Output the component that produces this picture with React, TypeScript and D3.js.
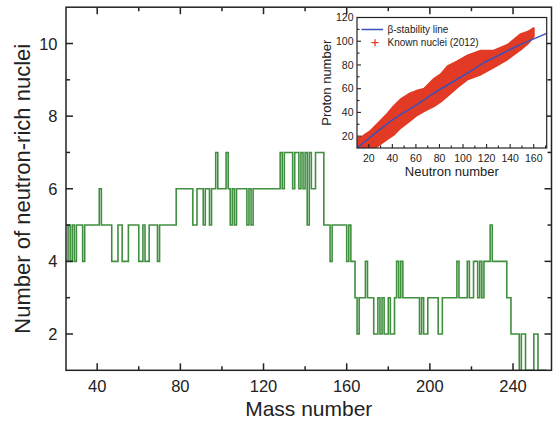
import React from "react";
import * as d3 from "d3";

// main step chart: run-length data (mass number where a run starts, count in that run)
const massStart = [
  25, 26, 27, 28, 29, 30, 33, 34, 41, 42, 47, 50, 52, 55, 60, 62, 63, 65, 69, 70,
  78, 86, 88, 91, 92, 94, 95, 97, 98, 102, 103, 104, 105, 106, 107, 112, 113, 114, 115,
  128, 129, 130, 134, 135, 137, 138, 139, 140, 141, 142, 143, 145, 149, 152, 153, 160,
  161, 162, 164, 165, 166, 169, 170, 173, 175, 176, 177, 178, 180, 181, 183, 184, 185,
  186, 187, 195, 196, 197, 199, 204, 206, 213, 214, 218, 219, 221, 223, 224, 225, 226,
  229, 230, 237, 239, 243, 244, 246, 250, 252,
];
const nucleiCount = [
  4, 5, 4, 5, 4, 5, 4, 5, 6, 5, 4, 5, 4, 5, 4, 5, 4, 5, 4, 5,
  6, 5, 6, 5, 6, 5, 6, 7, 6, 7, 6, 5, 6, 5, 6, 5, 6, 5, 6,
  7, 6, 7, 6, 7, 6, 7, 6, 7, 5, 7, 6, 7, 5, 4, 5, 4,
  5, 4, 3, 2, 3, 4, 3, 2, 3, 2, 3, 2, 3, 2, 3, 4, 3,
  4, 3, 2, 3, 2, 3, 2, 3, 4, 3, 4, 3, 4, 3, 4, 3, 4,
  5, 4, 3, 2, 1, 2, 1, 2, 1,
];
const massEnd = 256;

const xMajorTicks = [40, 80, 120, 160, 200, 240];
const xMinorTicks = [60, 100, 140, 180, 220];
const yMajorTicks = [2, 4, 6, 8, 10];
const yMinorTicks = [3, 5, 7, 9];

// inset: beta-stability line and band of known nuclei
const betaN = [10, 20, 35, 50, 60, 75, 90, 105, 118, 130, 146, 160, 172];
const betaZ = [10, 18, 30, 40, 46, 56, 65, 74, 82, 88, 96, 102, 107];

const bandN = [8, 15, 21, 28, 35, 41, 47, 55, 60, 67, 75, 81, 87, 95, 104, 115, 126, 138, 149, 155, 160];
const bandZmax = [17, 20, 24, 31, 38, 45, 51, 56, 58, 60, 68, 72, 79, 83, 88, 92, 92, 97, 106, 108, 111];
const bandZmin = [5, 5, 7, 12, 17, 21, 27, 33, 37, 41, 45, 49, 54, 61, 68, 72, 78, 85, 93, 98, 104];

const insetXTicks = [20, 40, 60, 80, 100, 120, 140, 160];
const insetXMinor = [30, 50, 70, 90, 110, 130, 150, 170];
const insetYTicks = [20, 40, 60, 80, 100, 120];
const insetYMinor = [30, 50, 70, 90, 110];

const FONT = "'Liberation Sans', Arial, sans-serif";
const INK = "#222";

export default function App() {
  const x = d3.scaleLinear().domain([25, 258.5]).range([66, 551.5]);
  const y = d3.scaleLinear().domain([1, 11]).range([370.3, 7.2]);

  const steps: [number, number][] = massStart.map((a, i) => [a, nucleiCount[i]]);
  steps.push([massEnd, nucleiCount[nucleiCount.length - 1]]);
  const stepLine = d3
    .line<[number, number]>()
    .x((d) => x(d[0]))
    .y((d) => y(d[1]))
    .curve(d3.curveStepAfter);

  const ix = d3.scaleLinear().domain([10, 171]).range([357, 546.7]);
  const iy = d3.scaleLinear().domain([10, 120]).range([148, 17.5]);

  const bandArea = d3
    .area<number>()
    .x((d) => ix(bandN[d]))
    .y0((d) => iy(bandZmin[d]))
    .y1((d) => iy(bandZmax[d]))
    .curve(d3.curveLinear);
  const betaLine = d3
    .line<number>()
    .x((d, i) => ix(betaN[i]))
    .y((d) => iy(d))
    .curve(d3.curveMonotoneX);

  const [x0, x1] = x.range();
  const [yb, yt] = y.range();
  const [ix0, ix1] = ix.range();
  const [iyb, iyt] = iy.range();

  return (
    <svg
      width={553}
      height={423}
      style={{ position: "absolute", left: 0, top: 0, background: "#fff" }}
      fontFamily={FONT}
    >
      <defs>
        <clipPath id="insetClip">
          <rect x={ix0} y={iyt} width={ix1 - ix0} height={iyb - iyt} />
        </clipPath>
      </defs>

      {/* main step line */}
      <path d={stepLine(steps) || ""} fill="none" stroke="#3f8f3f" strokeWidth={1.6} />

      {/* main frame */}
      <rect x={x0} y={yt} width={x1 - x0} height={yb - yt} fill="none" stroke={INK} strokeWidth={1.5} />

      {/* main ticks */}
      {xMajorTicks.map((t) => (
        <g key={"xm" + t}>
          <line x1={x(t)} x2={x(t)} y1={yb} y2={yb - 7} stroke={INK} strokeWidth={1.5} />
          <line x1={x(t)} x2={x(t)} y1={yt} y2={yt + 7} stroke={INK} strokeWidth={1.5} />
          <text x={x(t)} y={392} textAnchor="middle" fontSize={16.5} fill={INK}>
            {t}
          </text>
        </g>
      ))}
      {xMinorTicks.map((t) => (
        <g key={"xn" + t}>
          <line x1={x(t)} x2={x(t)} y1={yb} y2={yb - 4} stroke={INK} strokeWidth={1.5} />
          <line x1={x(t)} x2={x(t)} y1={yt} y2={yt + 4} stroke={INK} strokeWidth={1.5} />
        </g>
      ))}
      {yMajorTicks.map((t) => (
        <g key={"ym" + t}>
          <line x1={x0} x2={x0 + 7} y1={y(t)} y2={y(t)} stroke={INK} strokeWidth={1.5} />
          <line x1={x1} x2={x1 - 7} y1={y(t)} y2={y(t)} stroke={INK} strokeWidth={1.5} />
          <text x={57.5} y={y(t) + 6} textAnchor="end" fontSize={16.5} fill={INK}>
            {t}
          </text>
        </g>
      ))}
      {yMinorTicks.map((t) => (
        <g key={"yn" + t}>
          <line x1={x0} x2={x0 + 4} y1={y(t)} y2={y(t)} stroke={INK} strokeWidth={1.5} />
          <line x1={x1} x2={x1 - 4} y1={y(t)} y2={y(t)} stroke={INK} strokeWidth={1.5} />
        </g>
      ))}

      <text x={(x0 + x1) / 2} y={416} textAnchor="middle" fontSize={21} fill={INK}>
        Mass number
      </text>
      <text
        transform={`translate(30,${(yb + yt) / 2}) rotate(-90)`}
        textAnchor="middle"
        fontSize={22}
        fill={INK}
      >
        Number of neutron-rich nuclei
      </text>

      {/* inset */}
      <rect x={ix0} y={iyt} width={ix1 - ix0} height={iyb - iyt} fill="#fff" />
      <g clipPath="url(#insetClip)">
        <path
          d={bandArea(d3.range(bandN.length)) || ""}
          fill="#e33a25"
          stroke="#e33a25"
          strokeWidth={2}
          strokeLinejoin="round"
        />
        <path d={betaLine(betaZ) || ""} fill="none" stroke="#3a52b8" strokeWidth={1.5} />
      </g>
      <rect x={ix0} y={iyt} width={ix1 - ix0} height={iyb - iyt} fill="none" stroke={INK} strokeWidth={1.2} />

      {insetXTicks.map((t) => (
        <g key={"ix" + t}>
          <line x1={ix(t)} x2={ix(t)} y1={iyb} y2={iyb - 4} stroke={INK} strokeWidth={1.1} />
          <text x={ix(t)} y={162} textAnchor="middle" fontSize={10.5} fill={INK}>
            {t}
          </text>
        </g>
      ))}
      {insetXMinor.map((t) => (
        <line key={"ixn" + t} x1={ix(t)} x2={ix(t)} y1={iyb} y2={iyb - 2.5} stroke={INK} strokeWidth={1.1} />
      ))}
      {insetYTicks.map((t) => (
        <g key={"iy" + t}>
          <line x1={ix0} x2={ix0 + 4} y1={iy(t)} y2={iy(t)} stroke={INK} strokeWidth={1.1} />
          <text x={353.5} y={iy(t) + 3.8} textAnchor="end" fontSize={10.5} fill={INK}>
            {t}
          </text>
        </g>
      ))}
      {insetYMinor.map((t) => (
        <line key={"iyn" + t} x1={ix0} x2={ix0 + 2.5} y1={iy(t)} y2={iy(t)} stroke={INK} strokeWidth={1.1} />
      ))}

      <text x={(ix0 + ix1) / 2} y={176} textAnchor="middle" fontSize={13} fill={INK}>
        Neutron number
      </text>
      <text
        transform={`translate(331,${(iyb + iyt) / 2}) rotate(-90)`}
        textAnchor="middle"
        fontSize={13}
        fill={INK}
      >
        Proton number
      </text>

      {/* legend */}
      <line x1={361.5} x2={383} y1={29.5} y2={29.5} stroke="#3a52b8" strokeWidth={1.5} />
      <text x={387.5} y={33} fontSize={10} fill={INK}>
        β-stability line
      </text>
      <path d="M371.5,42.7h7M375,39.2v7" stroke="#e33a25" strokeWidth={1.3} />
      <text x={387.5} y={46} fontSize={10} fill={INK}>
        Known nuclei (2012)
      </text>
    </svg>
  );
}
